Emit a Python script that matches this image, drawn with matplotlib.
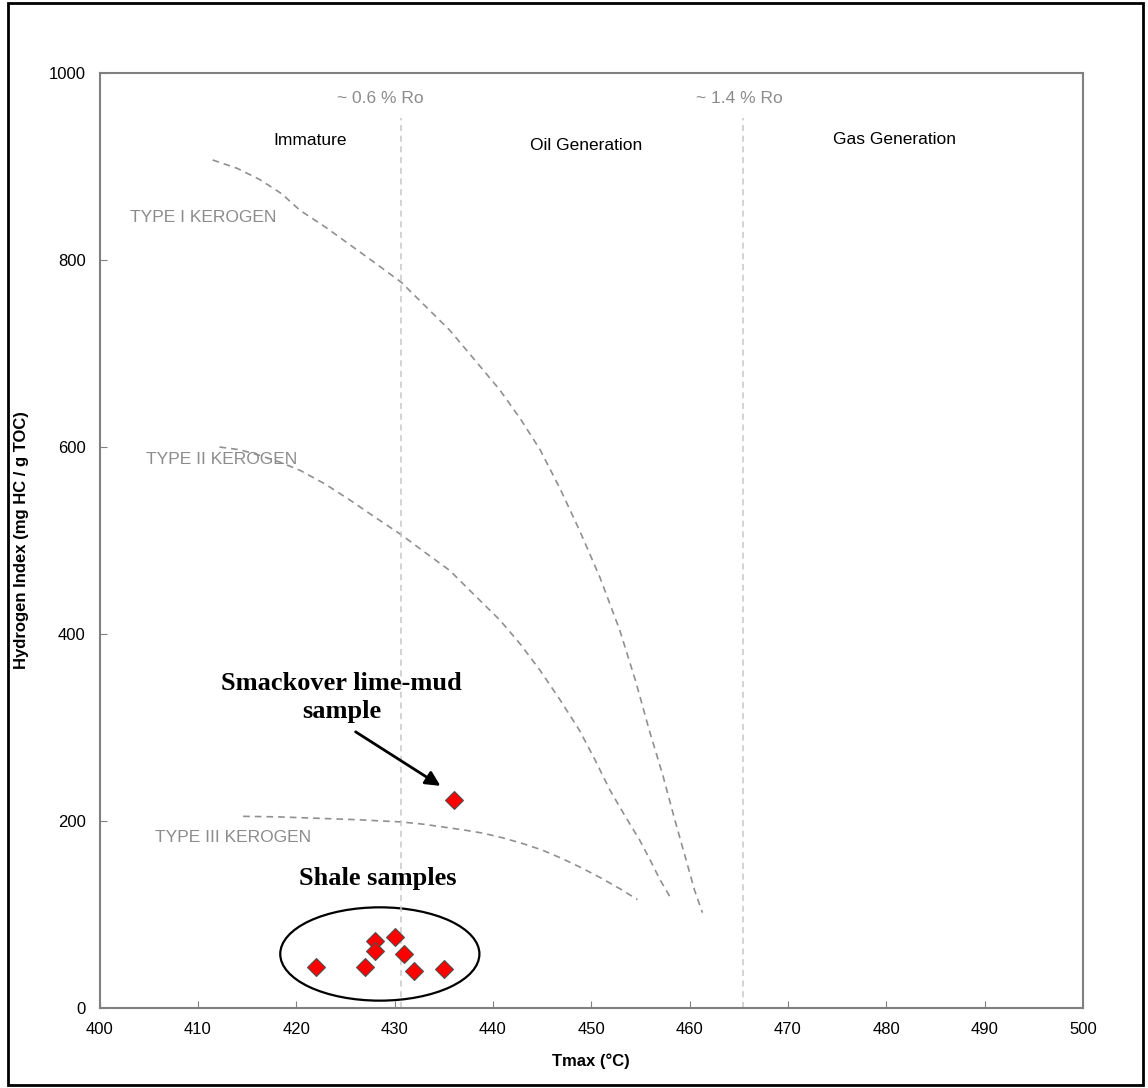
import numpy as np
import matplotlib.pyplot as plt
from matplotlib.patches import Ellipse, Rectangle

# kerogen type boundary curves (Tmax, HI)
type1_t = [411.5, 414.0, 416.3, 418.5, 420.4, 423.0, 425.5, 428.0, 430.7, 433.0, 435.6, 438.0,
           440.7, 442.8, 444.8, 446.8, 448.8, 450.9, 452.9, 454.5, 455.9, 457.3, 458.5, 459.6, 460.5, 461.3]
type1_hi = [907, 898, 886, 871, 853, 835, 816, 797, 776, 752, 725, 695,
            661, 630, 597, 556, 511, 460, 404, 350, 297, 248, 201, 160, 126, 102]
type2_t = [412.2, 414.3, 416.3, 418.3, 420.4, 423.0, 425.5, 428.0, 430.7, 433.0, 435.6, 438.0,
           440.7, 442.8, 444.8, 446.8, 448.8, 450.4, 451.9, 453.4, 454.9, 456.0, 457.0, 458.0]
type2_hi = [600, 597, 591, 584, 575, 560, 543, 525, 506, 488, 468, 443,
            415, 389, 361, 330, 297, 265, 233, 206, 180, 158, 137, 119]
type3_t = [414.6, 418.0, 422.0, 426.0, 430.7, 433.0, 435.0, 437.0, 439.0, 441.0, 443.0, 445.0,
           447.0, 449.0, 451.0, 453.0, 454.7]
type3_hi = [205, 204.5, 203, 201.5, 199, 196.5, 193.5, 190.5, 187, 182, 176, 169,
            160, 150, 139, 127, 116]

# samples
shale_tmax = [422, 427, 428, 428, 430, 431, 432, 435]
shale_hi = [44, 44, 72, 61, 76, 58, 40, 42]
lime_tmax = [436]
lime_hi = [222]

ro_lines = [430.7, 465.4]
ro_labels = ["~ 0.6 % Ro", "~ 1.4 % Ro"]

fig = plt.figure(figsize=(11.48, 10.88), dpi=100)
ax = fig.add_axes([0.0867, 0.0735, 0.8567, 0.8594])
plt.rcParams['font.family'] = ['Liberation Sans', 'DejaVu Sans']

grey = "#8c8c8c"
for t, hi in [(type1_t, type1_hi), (type2_t, type2_hi), (type3_t, type3_hi)]:
    ax.plot(t, hi, color="#909090", lw=1.2, ls=(0, (4, 3)), solid_joinstyle="round")

for x, lab in zip(ro_lines, ro_labels):
    ax.plot([x, x], [0, 952], color="#c8c8c8", lw=1.1, ls=(0, (4, 3)))
    ax.text(x - 2.2 if x < 450 else x - 0.3, 973, lab, ha="center", va="center",
            color=grey, fontsize=12.5, family="Liberation Sans")

ax.text(421.4, 928, "Immature", ha="center", va="center", fontsize=12.5, family="Liberation Sans")
ax.text(449.5, 922, "Oil Generation", ha="center", va="center", fontsize=12.5, family="Liberation Sans")
ax.text(480.8, 929, "Gas Generation", ha="center", va="center", fontsize=12.5, family="Liberation Sans")

ax.text(403.1, 845, "TYPE I KEROGEN", ha="left", va="center", color=grey, fontsize=12.5, family="Liberation Sans")
ax.text(404.7, 587, "TYPE II KEROGEN", ha="left", va="center", color=grey, fontsize=12.5, family="Liberation Sans")
ax.text(405.6, 182, "TYPE III KEROGEN", ha="left", va="center", color=grey, fontsize=12.5, family="Liberation Sans")

ax.plot(shale_tmax, shale_hi, ls="none", marker="D", ms=9.5, mfc="red", mec="#505050", mew=0.8, zorder=5)
ax.plot(lime_tmax, lime_hi, ls="none", marker="D", ms=9.5, mfc="red", mec="#505050", mew=0.8, zorder=5)

ax.add_patch(Ellipse((428.5, 57.8), 20.25, 99.8, fill=False, ec="black", lw=1.6))

ax.text(424.6, 332, "Smackover lime-mud\nsample", ha="center", va="center", fontsize=19,
        fontweight="bold", family="Liberation Serif", linespacing=1.32)
ax.annotate("", xy=(434.9, 236), xytext=(425.8, 297),
            arrowprops=dict(arrowstyle="-|>", color="black", lw=2, mutation_scale=22))
ax.text(428.3, 139, "Shale samples", ha="center", va="center", fontsize=19,
        fontweight="bold", family="Liberation Serif")

ax.set_xlim(400, 500)
ax.set_ylim(0, 1000)
ax.set_xticks(np.arange(400, 501, 10))
ax.set_yticks(np.arange(0, 1001, 200))
ax.tick_params(direction="in", length=5, color="#808080", labelsize=12, pad=10)
for lab in ax.get_xticklabels() + ax.get_yticklabels():
    lab.set_family("Liberation Sans")
for s in ax.spines.values():
    s.set_color("#808080")
    s.set_linewidth(1.5)

ax.set_xlabel("Tmax (°C)", fontsize=12, fontweight="bold", family="Liberation Sans", labelpad=12)
ax.set_ylabel("Hydrogen Index (mg HC / g TOC)", fontsize=12, fontweight="bold",
              family="Liberation Sans", labelpad=14)

fig.patches.append(Rectangle((0.007, 0.003), 0.989, 0.994, transform=fig.transFigure,
                             fill=False, ec="black", lw=2))

fig.savefig("out.png", dpi=100)
